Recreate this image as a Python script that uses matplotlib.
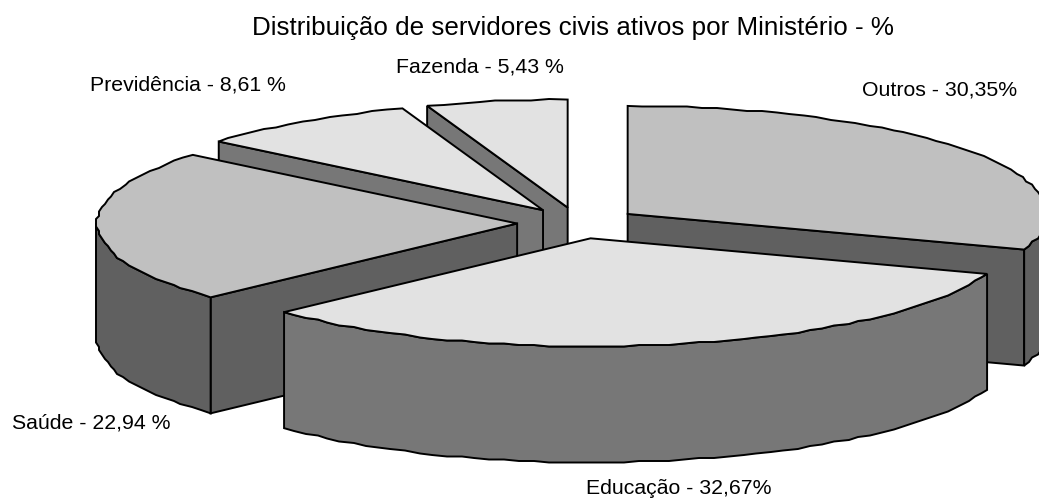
import numpy as np
import matplotlib
matplotlib.use("Agg")
import matplotlib.pyplot as plt
from matplotlib.patches import Polygon

plt.rcParams['font.family'] = ['Liberation Sans', 'DejaVu Sans']

# clockwise from 12 o'clock
categories = ["Outros", "Educação", "Saúde", "Previdência", "Fazenda"]
values = [30.35, 32.67, 22.94, 8.61, 5.43]
top_colors = ["#c0c0c0", "#e2e2e2", "#c0c0c0", "#e2e2e2", "#e2e2e2"]
wall_colors = ["#606060", "#777777", "#606060", "#777777", "#777777"]
labels = ["Outros - 30,35%", "Educação - 32,67%", "Saúde - 22,94 %",
          "Previdência - 8,61 %", "Fazenda - 5,43 %"]
label_pos = [(940, 90), (679, 489), (91, 423), (188, 85), (480, 67)]

title = "Distribuição de servidores civis ativos por Ministério - %"

cx, cy = 578, 223   # centre of the pie top
rx, ry = 420, 108
depth = 116
explode = 0.145


def rim(theta, x0, y0):
    # coarse rounding gives the wobbly edge of the original
    x = x0 + rx * np.sin(theta)
    y = y0 - ry * np.cos(theta)
    inner = np.ones(len(x), dtype=bool)
    inner[[0, -1]] = False
    x[inner] = np.round(x[inner] / 3) * 3
    y[inner] = np.round(y[inner] / 1.5) * 1.5
    return x, y


fig = plt.figure(figsize=(10.39, 4.99), dpi=100)
ax = fig.add_axes([0, 0, 1, 1])
ax.set_xlim(0, 1039)
ax.set_ylim(499, 0)
ax.axis("off")

edges = np.cumsum([0] + values) / sum(values) * 2 * np.pi
slices = []
for i in range(len(values)):
    mid = (edges[i] + edges[i + 1]) / 2
    x0 = cx + explode * rx * np.sin(mid)
    y0 = cy - explode * ry * np.cos(mid)
    slices.append((y0, x0, i))

# back to front
for y0, x0, i in sorted(slices):
    n = max(int(np.degrees(edges[i + 1] - edges[i]) / 2), 4)
    theta = np.linspace(edges[i], edges[i + 1], n)
    x, y = rim(theta, x0, y0)
    kw = dict(edgecolor="black", linewidth=1.4, joinstyle="miter")

    # radial side walls, only the ones facing the viewer
    if np.sin(edges[i]) < -1e-6:
        quad = [(x0, y0), (x[0], y[0]), (x[0], y[0] + depth), (x0, y0 + depth)]
        ax.add_patch(Polygon(quad, closed=True, facecolor=wall_colors[i], **kw))
    if np.sin(edges[i + 1]) > 1e-6:
        quad = [(x0, y0), (x[-1], y[-1]), (x[-1], y[-1] + depth), (x0, y0 + depth)]
        ax.add_patch(Polygon(quad, closed=True, facecolor=wall_colors[i], **kw))

    # outer wall, front half of the rim only
    front = np.cos(theta) <= 0.02
    if front.sum() > 1:
        fx, fy = x[front], y[front]
        pts = np.concatenate([np.column_stack([fx, fy]),
                              np.column_stack([fx, fy + depth])[::-1]])
        ax.add_patch(Polygon(pts, closed=True, facecolor=wall_colors[i], **kw))

    top = np.concatenate([[[x0, y0]], np.column_stack([x, y])])
    ax.add_patch(Polygon(top, closed=True, facecolor=top_colors[i], **kw))

for text, (lx, ly) in zip(labels, label_pos):
    ax.text(lx, ly, text, ha="center", va="center", fontsize=15.3, color="black")

ax.text(573, 28, title, ha="center", va="center", fontsize=18.7, color="black")

fig.savefig("out.png", dpi=100)
